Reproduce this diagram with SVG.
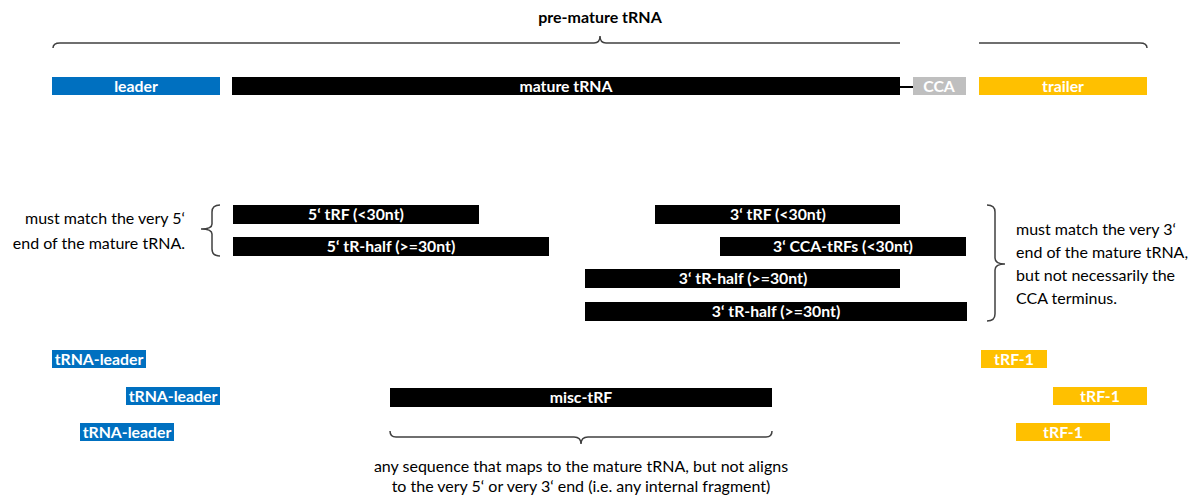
<svg xmlns="http://www.w3.org/2000/svg" width="1200" height="496" viewBox="0 0 1200 496">
<style>
.lbl{font-family:Lato,"Liberation Sans",sans-serif;font-weight:bold;font-size:15.8px;fill:#fff;text-anchor:middle}
.txt{font-family:Lato,"Liberation Sans",sans-serif;font-size:16px;fill:#000}
.blk{fill:#000}
.blue{fill:#0070C0}
.yel{fill:#FFC000}
.gray{fill:#BFBFBF}
.brace{fill:none;stroke:#404040;stroke-width:1.5}
</style>
<rect width="1200" height="496" fill="#fff"/>
<text x="600" y="23" class="txt" font-weight="bold" text-anchor="middle">pre-mature tRNA</text>
<g id="connectors">
<path class="brace" d="M53,48 Q53,43 60,43 L594,43 Q600,43 600,36 Q600,43 606,43 L900,43"/>
<path class="brace" d="M979,43 L1140,43 Q1147,43 1147,48"/>
<line x1="900" y1="87" x2="913" y2="87" stroke="#000" stroke-width="2"/>
<path class="brace" d="M220,205 Q212,205 212,212 L212,224 Q212,229 201,229 Q212,229 212,234 L212,249 Q212,256 220,256"/>
<path class="brace" d="M987,205 Q995,205 995,212 L995,258 Q995,264 1005,264 Q995,264 995,270 L995,314 Q995,321 987,321"/>
<path class="brace" d="M390,431 Q390,437 396,437 L574,437 Q581,437 581,444 Q581,437 588,437 L766,437 Q772,437 772,431"/>
</g>
<g id="leader"><rect x="52" y="77" width="168" height="18" class="blue"/><text x="136" y="92" class="lbl">leader</text></g>
<g id="mature"><rect x="232" y="77" width="668" height="18" class="blk"/><text x="566" y="92" class="lbl">mature tRNA</text></g>
<g id="cca"><rect x="913" y="77" width="53" height="18" class="gray"/><text x="939" y="92" class="lbl">CCA</text></g>
<g id="trailer"><rect x="979" y="77" width="168" height="18" class="yel"/><text x="1063" y="92" class="lbl">trailer</text></g>
<g id="note5"><text x="185" y="224" class="txt" font-size="17.8" text-anchor="end">must match the very 5‘</text><text x="185" y="249" class="txt" font-size="17.8" text-anchor="end">end of the mature tRNA.</text></g>
<g id="tRF5"><rect x="233" y="205" width="246" height="19" class="blk"/><text x="356" y="220" class="lbl">5‘ tRF (&lt;30nt)</text></g>
<g id="half5"><rect x="233" y="237" width="316" height="19" class="blk"/><text x="391" y="252" class="lbl">5‘ tR-half (&gt;=30nt)</text></g>
<g id="tRF3"><rect x="655" y="205" width="245" height="19" class="blk"/><text x="778" y="220" class="lbl">3‘ tRF (&lt;30nt)</text></g>
<g id="cca3"><rect x="720" y="237" width="246" height="19" class="blk"/><text x="843" y="252" class="lbl">3‘ CCA-tRFs (&lt;30nt)</text></g>
<g id="half3a"><rect x="585" y="269" width="315" height="19" class="blk"/><text x="743" y="284" class="lbl">3‘ tR-half (&gt;=30nt)</text></g>
<g id="half3b"><rect x="585" y="302" width="382" height="19" class="blk"/><text x="776" y="317" class="lbl">3‘ tR-half (&gt;=30nt)</text></g>
<g id="note3"><text x="1016" y="235" class="txt" font-size="15">must match the very 3‘</text><text x="1016" y="258" class="txt" font-size="15">end of the mature tRNA,</text><text x="1016" y="281" class="txt" font-size="15">but not necessarily the</text><text x="1016" y="304" class="txt" font-size="15">CCA terminus.</text></g>
<g id="leader1"><rect x="52" y="350" width="94" height="18" class="blue"/><text x="99" y="365" class="lbl">tRNA-leader</text></g>
<g id="leader2"><rect x="126" y="387" width="94" height="18" class="blue"/><text x="173" y="402" class="lbl">tRNA-leader</text></g>
<g id="leader3"><rect x="80" y="423" width="94" height="18" class="blue"/><text x="127" y="438" class="lbl">tRNA-leader</text></g>
<g id="trf1a"><rect x="981" y="350" width="66" height="18" class="yel"/><text x="1014" y="365" class="lbl">tRF-1</text></g>
<g id="trf1b"><rect x="1053" y="387" width="94" height="18" class="yel"/><text x="1100" y="402" class="lbl">tRF-1</text></g>
<g id="trf1c"><rect x="1016" y="423" width="94" height="18" class="yel"/><text x="1063" y="438" class="lbl">tRF-1</text></g>
<g id="misc"><rect x="390" y="388" width="382" height="19" class="blk"/><text x="581" y="403" class="lbl">misc-tRF</text></g>
<g id="noteMisc"><text x="581" y="472" class="txt" text-anchor="middle">any sequence that maps to the mature tRNA, but not aligns</text><text x="581" y="492" class="txt" text-anchor="middle">to the very 5‘ or very 3‘ end (i.e. any internal fragment)</text></g>
</svg>
